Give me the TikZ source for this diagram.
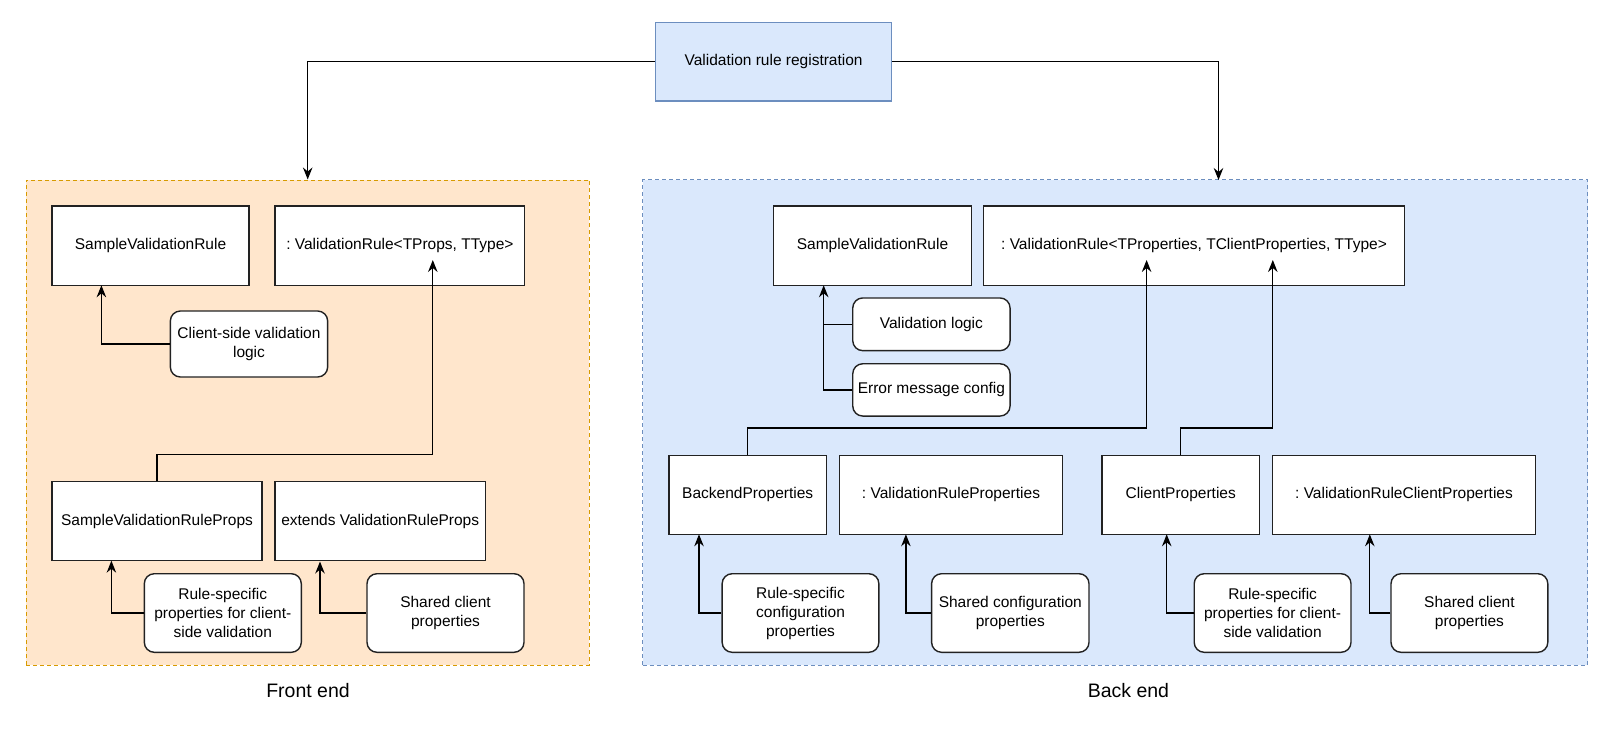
\documentclass[tikz,border=0pt]{standalone}
\usepackage{fontspec}
\setmainfont{Liberation Sans}
\usetikzlibrary{arrows.meta}
\frenchspacing
\definecolor{orfill}{HTML}{FFE6CC}
\definecolor{orline}{HTML}{D79B00}
\definecolor{blfill}{HTML}{DAE8FC}
\definecolor{blline}{HTML}{6C8EBF}
\definecolor{boxline}{HTML}{222222}
\tikzset{
  txt/.style={font=\fontsize{15.5}{19}\selectfont\frenchspacing, text=black, align=center, inner sep=0pt},
  sqbox/.style={txt, draw=boxline, line width=1.4pt, fill=white},
  rdbox/.style={sqbox, rounded corners=10pt},
  regbox/.style={txt, draw=blline, line width=1.4pt, fill=blfill},
  fcont/.style={draw=orline, fill=orfill, line width=1pt, dash pattern=on 4pt off 3pt, inner sep=0pt},
  bcont/.style={draw=blline, fill=blfill, line width=1pt, dash pattern=on 4pt off 3pt, inner sep=0pt},
  lbl/.style={font=\fontsize{19.5}{22}\selectfont, text=black, inner sep=0pt},
  conn/.style={draw=black, line width=1.3pt},
  arr/.style={conn, -{Stealth[length=12pt,width=9.5pt,inset=4pt]}},
}
\begin{document}
\begin{tikzpicture}[x=1pt,y=-1pt]
\useasboundingbox (0,0) rectangle (1603,731);
% containers
\node[fcont, minimum width=563.4pt, minimum height=485pt] (front) at (307.7,422.5) {};
\node[bcont, minimum width=944.8pt, minimum height=485.3pt] (back) at (1115.1,422.6) {};
% top
\node[regbox, minimum width=236.3pt, minimum height=78.5pt] (reg) at (773.6,61.8) {Validation rule registration};
% front end
\node[sqbox, minimum width=197pt, minimum height=79.3pt] (fsvr) at (150.5,245.7) {SampleValidationRule};
\node[sqbox, minimum width=249.7pt, minimum height=79.3pt] (fvr) at (399.9,245.7) {: ValidationRule<TProps, TType>};
\node[rdbox, minimum width=157.3pt, minimum height=66pt] (fcsl) at (249,344) {Client-side validation\\logic};
\node[sqbox, minimum width=210pt, minimum height=79pt] (fsvrp) at (157,521.2) {SampleValidationRuleProps};
\node[sqbox, minimum width=210.3pt, minimum height=79pt] (fext) at (380.2,521.2) {extends ValidationRuleProps};
\node[rdbox, minimum width=157pt, minimum height=78.6pt] (frs) at (222.8,613) {Rule-specific\\properties for client-\\side validation};
\node[rdbox, minimum width=157pt, minimum height=78.6pt] (fsc) at (445.5,613) {Shared client\\properties};
% back end
\node[sqbox, minimum width=197.6pt, minimum height=79.3pt] (bsvr) at (872.5,245.7) {SampleValidationRule};
\node[sqbox, minimum width=420.7pt, minimum height=79.3pt] (bvr) at (1194,245.7) {: ValidationRule<TProperties, TClientProperties, TType>};
\node[rdbox, minimum width=157.3pt, minimum height=52.7pt] (bvl) at (931.4,324.3) {Validation logic};
\node[rdbox, minimum width=157.3pt, minimum height=52.3pt] (bemc) at (931.4,389.9) {Error message config};
\node[sqbox, minimum width=157.8pt, minimum height=78.8pt] (bbp) at (747.7,494.9) {BackendProperties};
\node[sqbox, minimum width=223.1pt, minimum height=78.8pt] (bvrp) at (951,494.9) {: ValidationRuleProperties};
\node[sqbox, minimum width=157.5pt, minimum height=78.8pt] (bcp) at (1180.7,494.9) {ClientProperties};
\node[sqbox, minimum width=262.6pt, minimum height=78.8pt] (bvrcp) at (1404,494.9) {: ValidationRuleClientProperties};
\node[rdbox, minimum width=156.7pt, minimum height=78.6pt] (brsc) at (800.5,613) {Rule-specific\\configuration\\properties};
\node[rdbox, minimum width=157.4pt, minimum height=78.6pt] (bscfg) at (1010.3,613) {Shared configuration\\properties};
\node[rdbox, minimum width=156.8pt, minimum height=78.6pt] (brscl) at (1272.6,613) {Rule-specific\\properties for client-\\side validation};
\node[rdbox, minimum width=156.8pt, minimum height=78.6pt] (bsc) at (1469.4,613) {Shared client\\properties};
% labels
\node[lbl] (flbl) at (308,690.7) {Front end};
\node[lbl] (blbl) at (1128.4,690.7) {Back end};
% connector end points
\coordinate (bin) at (1218.5,180);
\coordinate (a1) at (101.4,285.3);
\coordinate (a2) at (432.8,260);
\coordinate (a3) at (111.4,560.7);
\coordinate (a4) at (320,561.5);
\coordinate (a5) at (823.7,285.3);
\coordinate (a6) at (1146.6,260);
\coordinate (a7) at (1272.8,260);
\coordinate (a8) at (699,534.3);
\coordinate (a9) at (905.9,534.3);
\coordinate (a10) at (1166.7,534.3);
\coordinate (a11) at (1369.8,534.3);
% connectors
\draw[arr] (reg.west) -| (front.north);
\draw[arr] (reg.east) -| (bin);
\draw[arr] (fcsl.west) -| (a1);
\draw[arr] (fsvrp.north) -- ++(0,-26.4) -| (a2);
\draw[arr] (frs.west) -| (a3);
\draw[arr] (fsc.west) -| (a4);
\draw[conn] (bvl.west) -- (bvl.west -| a5);
\draw[arr] (bemc.west) -| (a5);
\draw[arr] (bbp.north) -- ++(0,-26.8) -| (a6);
\draw[arr] (bcp.north) -- ++(0,-26.8) -| (a7);
\draw[arr] (brsc.west) -| (a8);
\draw[arr] (bscfg.west) -| (a9);
\draw[arr] (brscl.west) -| (a10);
\draw[arr] (bsc.west) -| (a11);
\end{tikzpicture}
\end{document}
